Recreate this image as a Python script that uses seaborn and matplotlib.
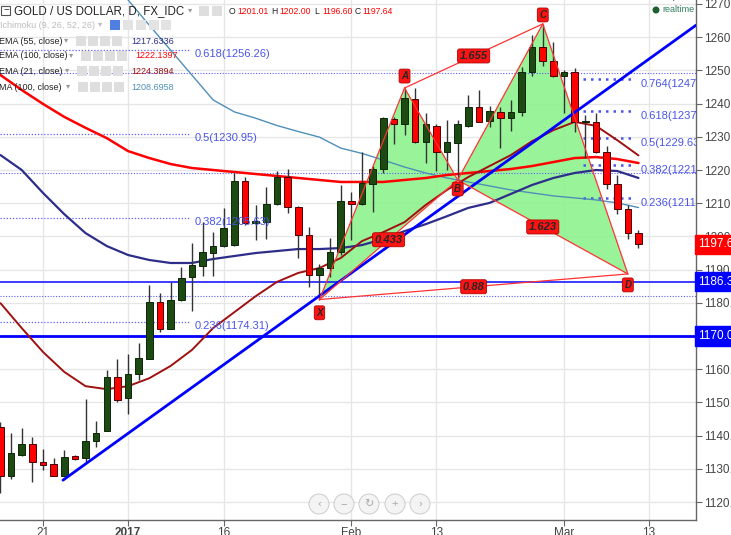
import numpy as np
import pandas as pd
import seaborn as sns
import matplotlib.pyplot as plt
from matplotlib.patches import Rectangle, Ellipse

# daily candles (index 0 = first visible bar, Dec 2016)
opens = [1142.6, 1127.8, 1134.2, 1137.5, 1132.0, 1131.4, 1127.8, 1133.9, 1133.3, 1138.4,
         1141.4, 1157.6, 1151.3, 1158.6, 1163.1, 1180.2, 1172.1, 1180.8, 1187.8, 1191.1,
         1195.0, 1197.1, 1197.5, 1216.7, 1204.0, 1204.3, 1209.8, 1217.9, 1208.9, 1200.4,
         1188.4, 1190.5, 1195.3, 1210.7, 1209.8, 1215.8, 1220.3, 1235.4, 1233.9, 1241.4,
         1228.4, 1233.3, 1225.4, 1228.1, 1233.3, 1239.0, 1234.8, 1237.5, 1235.7, 1237.5,
         1249.5, 1257.0, 1252.8, 1248.3, 1249.5, 1234.5, 1234.5, 1225.4, 1215.8, 1208.3,
         1201.01]
highs = [1144.0, 1140.8, 1142.3, 1139.6, 1136.0, 1133.3, 1135.7, 1134.2, 1151.0, 1144.4,
         1159.8, 1163.1, 1164.6, 1167.9, 1185.4, 1183.0, 1186.3, 1190.8, 1198.0, 1204.3,
         1201.3, 1208.6, 1219.1, 1218.0, 1209.5, 1214.9, 1219.7, 1220.3, 1209.2, 1202.8,
         1191.7, 1199.5, 1215.5, 1213.4, 1225.4, 1221.2, 1236.0, 1236.0, 1244.7, 1244.7,
         1237.2, 1233.9, 1235.1, 1235.1, 1242.6, 1244.1, 1239.3, 1239.0, 1241.1, 1251.0,
         1260.7, 1264.0, 1258.6, 1250.1, 1250.7, 1236.6, 1237.2, 1227.2, 1218.5, 1209.5,
         1202.00]
lows = [1122.7, 1126.9, 1133.8, 1126.0, 1129.6, 1127.8, 1127.8, 1132.7, 1132.0, 1136.6,
        1141.4, 1150.1, 1146.5, 1156.7, 1163.0, 1171.2, 1172.0, 1180.5, 1177.5, 1188.0,
        1188.0, 1196.8, 1197.0, 1203.4, 1198.9, 1199.2, 1209.5, 1207.0, 1193.5, 1184.8,
        1180.8, 1187.8, 1194.4, 1198.9, 1209.5, 1207.3, 1219.0, 1227.8, 1230.5, 1228.0,
        1222.1, 1219.7, 1220.0, 1217.0, 1233.0, 1234.5, 1233.0, 1226.6, 1231.7, 1236.3,
        1248.3, 1251.3, 1248.0, 1237.2, 1231.4, 1223.6, 1225.0, 1214.3, 1206.7, 1199.2,
        1196.60]
closes = [1127.8, 1134.8, 1137.5, 1132.0, 1131.1, 1127.8, 1133.6, 1133.0, 1138.4, 1140.8,
          1157.6, 1150.7, 1158.6, 1163.4, 1180.2, 1172.1, 1180.8, 1187.5, 1191.4, 1195.3,
          1197.1, 1202.5, 1216.7, 1204.0, 1204.6, 1209.8, 1217.9, 1208.9, 1200.4, 1188.4,
          1190.5, 1195.3, 1210.7, 1209.8, 1216.1, 1220.3, 1235.7, 1233.9, 1241.7, 1228.4,
          1233.9, 1225.4, 1228.4, 1233.9, 1239.0, 1234.5, 1237.8, 1235.7, 1237.5, 1249.5,
          1257.0, 1252.8, 1248.3, 1249.5, 1234.5, 1234.8, 1225.4, 1215.8, 1208.3, 1201.0,
          1197.64]

# moving averages, sampled every other bar
ma_idx = list(range(0, 61, 2))
ema55 = [1224.5, 1220.0, 1213.1, 1206.7, 1201.0, 1197.1, 1194.4, 1192.9, 1192.0, 1192.0,
         1193.2, 1194.1, 1195.0, 1195.6, 1196.2, 1196.2, 1196.5, 1197.4, 1199.2, 1201.6,
         1203.7, 1206.1, 1208.6, 1210.1, 1212.8, 1215.5, 1217.6, 1219.1, 1220.0, 1219.7,
         1217.6]
ema100 = [1248.6, 1244.1, 1239.9, 1236.0, 1232.7, 1229.6, 1225.7, 1223.6, 1221.8, 1220.6,
          1220.0, 1219.4, 1218.8, 1218.2, 1217.6, 1217.0, 1216.4, 1216.4, 1216.4, 1217.0,
          1217.6, 1218.5, 1219.1, 1219.7, 1220.3, 1221.2, 1222.4, 1223.6, 1223.9, 1223.3,
          1222.1]
ema21 = [1179.9, 1172.4, 1165.2, 1159.2, 1154.9, 1154.0, 1154.9, 1157.3, 1161.0, 1165.8,
         1172.4, 1177.2, 1182.0, 1186.3, 1189.0, 1190.5, 1193.5, 1198.6, 1201.3, 1204.3,
         1209.5, 1214.0, 1217.9, 1221.2, 1224.5, 1228.7, 1232.0, 1234.5, 1233.3, 1229.0,
         1224.4]
sma_idx = list(range(10, 61, 2))
sma100 = [1279.3, 1271.2, 1263.6, 1256.1, 1248.6, 1241.1, 1237.5, 1235.6, 1233.4, 1231.6,
          1229.9, 1226.6, 1225.0, 1223.0, 1220.9, 1219.1, 1217.6, 1216.4, 1215.2, 1214.0,
          1213.1, 1212.2, 1211.6, 1211.0, 1210.1, 1208.7]

# harmonic pattern X A B C D
pat_names = ['X', 'A', 'B', 'C', 'D']
pat_idx = [30, 38, 43, 51, 59]
pat_val = [1181.0, 1244.7, 1217.0, 1264.0, 1188.7]
ratio_text = ['0.433', '1.655', '1.623', '0.88']

# fibonacci levels
fib1_vals = [1256.26, 1230.95, 1205.63, 1174.31]
fib1_text = ['0.618(1256.26)', '0.5(1230.95)', '0.382(1205.63)', '0.236(1174.31)']
fib2_vals = [1247.5, 1237.7, 1229.63, 1221.5, 1211.6]
fib2_text = ['0.764(1247.', '0.618(1237.', '0.5(1229.63', '0.382(1221.', '0.236(1211.']
dotted_vals = [1249.2, 1219.1, 1182.0]
support_vals = [1186.3, 1170.0]
trend_idx = [5.88, 65.41]
trend_val = [1126.6, 1263.6]

tick_pos = [4, 12, 21, 33, 41, 53, 61]
tick_lab = ['21', '2017', '16', 'Feb', '13', 'Mar', '13']

sns.set_style("whitegrid")
plt.rcParams['font.family'] = ['Liberation Sans', 'DejaVu Sans']

W, H = 731, 535
fig = plt.figure(figsize=(W / 100, H / 100), dpi=100)
ax = fig.add_axes([0, 15 / H, 696 / W, 520 / H])
XL, XR = -0.044, 65.41
ax.set_xlim(XL, XR)
ax.set_ylim(1114.6, 1271.2)
ax.set_axisbelow(True)
ax.grid(True, color='#e6e6e6', lw=1)

# pattern fill
ax.fill(pat_idx[0:3], pat_val[0:3], color='#8ef28e', alpha=0.9, lw=0, zorder=1)
ax.fill(pat_idx[2:5], pat_val[2:5], color='#8ef28e', alpha=0.9, lw=0, zorder=1)

# horizontal levels
for v in dotted_vals:
    ax.axhline(v, color='#5c5cff', lw=0.8, ls=(0, (1, 1.5)), zorder=2)
ax.axhline(support_vals[0], color='#1a1aff', lw=1.2, zorder=2)
ax.axhline(support_vals[1], color='#0000ff', lw=2, zorder=2)
for v, t in zip(fib1_vals, fib1_text):
    ax.hlines(v, XL, 17.8, color='#5c5cff', lw=0.9, ls=(0, (1, 1.5)), zorder=2)
    ax.text(18.3, v - 1.3, t, color='#4a55e8', fontsize=8, va='center', zorder=6)
for v, t in zip(fib2_vals, fib2_text):
    ax.hlines(v, 54.8, 59.7, color='#4a55e8', lw=1.8, ls=(0, (1, 2)), zorder=2)
    ax.text(60.2, v - 1.5, t, color='#4a55e8', fontsize=8, va='center', zorder=6, clip_on=True)

# moving averages
sns.lineplot(x=sma_idx, y=sma100, ax=ax, color='#4f8fb8', lw=1, estimator=None, sort=False, zorder=3)
sns.lineplot(x=ma_idx, y=ema55, ax=ax, color='#2e2e8a', lw=1.6, estimator=None, sort=False, zorder=3)
sns.lineplot(x=ma_idx, y=ema100, ax=ax, color='#ff0000', lw=1.8, estimator=None, sort=False, zorder=3)
sns.lineplot(x=ma_idx, y=ema21, ax=ax, color='#a01010', lw=1.4, estimator=None, sort=False, zorder=3)

# candles
o, h, l, c = map(np.array, (opens, highs, lows, closes))
idx = np.arange(len(o))
up = c >= o
body = np.maximum(np.abs(c - o), 0.4)
bot = np.minimum(o, c)
ax.vlines(idx, l, h, color='#333333', lw=1, zorder=4)
ax.bar(idx[up], body[up], bottom=bot[up], width=0.62, color='#1c4a12', edgecolor='#0e2608', lw=0.7, zorder=5)
ax.bar(idx[~up], body[~up], bottom=bot[~up], width=0.62, color='#ff0000', edgecolor='#4a0000', lw=0.7, zorder=5)

# trend line
ax.plot(trend_idx, trend_val, color='#0000ff', lw=2, zorder=6)

# pattern legs
red = '#ff3333'
legs = [(0, 1), (1, 2), (0, 2), (2, 3), (3, 4), (2, 4), (1, 3), (0, 4)]
for a, b in legs:
    ax.plot([pat_idx[a], pat_idx[b]], [pat_val[a], pat_val[b]], color=red, lw=0.9, zorder=6)
for (a, b), t in zip([(0, 2), (1, 3), (2, 4), (0, 4)], ratio_text):
    mx = (pat_idx[a] + pat_idx[b]) / 2
    my = (pat_val[a] + pat_val[b]) / 2
    ax.text(mx, my, t, fontsize=8, style='italic', weight='bold', ha='center', va='center',
            bbox=dict(boxstyle='round,pad=0.18', fc='#ff1414', ec='#b00000', lw=0.6), zorder=8)
offs = [-4.0, 3.6, -2.7, 2.7, -3.3]
for n, x, v, d in zip(pat_names, pat_idx, pat_val, offs):
    ax.text(x, v + d, n, fontsize=7, style='italic', weight='bold', ha='center', va='center',
            bbox=dict(boxstyle='round,pad=0.2', fc='#ff1414', ec='#b00000', lw=0.6), zorder=8)

ax.text(61.0, 1272.4, '1.13(1272.2', color='#555555', fontsize=8, va='center', clip_on=True)

# axes styling
for s in ['left', 'top']:
    ax.spines[s].set_visible(False)
for s in ['right', 'bottom']:
    ax.spines[s].set_color('#666666')
    ax.spines[s].set_linewidth(1)
ax.yaxis.tick_right()
yt = list(range(1120, 1271, 10))
ax.set_yticks(yt)
# 1170 is covered by its own price tag
ax.set_yticklabels(['' if v == 1170 else f'{v}.0' for v in yt])
ax.set_xticks(tick_pos)
ax.set_xticklabels(tick_lab)
ax.tick_params(axis='y', colors='#666666', labelcolor='#444444', labelsize=8.5, length=4, pad=2, right=True)
ax.tick_params(axis='x', colors='#666666', labelcolor='#444444', labelsize=8.5, length=4, pad=1, bottom=True)
ax.get_xticklabels()[1].set_weight('bold')
ax.set_xlabel('')
ax.set_ylabel('')

# price tags
tags = [(closes[-1], '1197.64', '#ff0000'), (support_vals[0], '1186.30', '#0000ff'),
        (support_vals[1], '1170.00', '#0000ff')]
for v, t, col in tags:
    ax.text(1.003, v, t, transform=ax.get_yaxis_transform(), color='white', fontsize=8.5,
            va='center', ha='left', clip_on=False, zorder=10,
            bbox=dict(boxstyle='square,pad=0.3', fc=col, ec=col))


def fx(px):
    return px / W


def fy(py):
    return 1 - py / H


def icon(x, y, fc='#dedede'):
    fig.patches.append(Rectangle((fx(x), fy(y + 5)), 10 / W, 10 / H, transform=fig.transFigure,
                                 fc=fc, ec='none'))


# header / legend
fs = 6.5
fig.patches.append(Rectangle((fx(1), fy(15)), 9 / W, 9 / H, transform=fig.transFigure,
                             fc='white', ec='#555555', lw=0.8))
fig.text(fx(3), fy(10.5), '−', fontsize=7, color='#333333', va='center')
fig.text(fx(14), fy(11), 'GOLD / US DOLLAR, D, FX_IDC', fontsize=8.3, color='#222222', va='center')
fig.text(fx(188), fy(11), '▾', fontsize=6, color='#999999', va='center')
icon(199, 11)
icon(212, 11)
ohlc = [('O', 229, '#222222'), ('1201.01', 237, '#ff0000'), ('H', 271, '#222222'),
        ('1202.00', 279, '#ff0000'), ('L', 314, '#222222'), ('1196.60', 322, '#ff0000'),
        ('C', 355, '#222222'), ('1197.64', 362, '#ff0000')]
for t, x, col in ohlc:
    fig.text(fx(x), fy(11), t, fontsize=6.2, color=col, va='center')

fig.text(fx(0), fy(25), 'Ichimoku (9, 26, 52, 26)', fontsize=fs, color='#bbbbbb', va='center')
fig.text(fx(98), fy(25), '▾', fontsize=6, color='#bbbbbb', va='center')
icon(110, 25, '#4f7fe0')
for x in [123, 136, 149, 161]:
    icon(x, 25, '#e3e3e3')

rows = [('EMA (55, close)', 41, 76, '1217.6336', '#2e2e8a', 131),
        ('EMA (100, close)', 56, 81, '1222.1397', '#ff0000', 135),
        ('EMA (21, close)', 71, 77, '1224.3894', '#a01010', 131),
        ('MA (100, close)', 87, 78, '1208.6958', '#4f8fb8', 131)]
for name, y, ix, val, col, vx in rows:
    fig.text(fx(-1), fy(y), name, fontsize=fs, color='#222222', va='center')
    fig.text(fx(ix - 12), fy(y), '▾', fontsize=6, color='#999999', va='center')
    for k in range(4):
        icon(ix + 12 * k, y)
    fig.text(fx(vx), fy(y), val, fontsize=fs, color=col, va='center')

# realtime marker
fig.patches.append(Ellipse((fx(656), fy(10)), 7 / W, 7 / H, transform=fig.transFigure,
                           fc='#1f5f2f', ec='none'))
fig.text(fx(662), fy(10), 'realtime', fontsize=fs, color='#2f7f5f', va='center')

# navigation buttons
for x, s in zip([319, 344, 369, 395, 420], ['‹', '−', '↻', '+', '›']):
    fig.patches.append(Ellipse((fx(x), fy(504)), 20 / W, 20 / H, transform=fig.transFigure,
                               fc='#f3f3f3', ec='#cccccc', lw=0.8, alpha=0.9))
    fig.text(fx(x), fy(504), s, fontsize=8, color='#aaaaaa', ha='center', va='center')

fig.savefig('out.png', dpi=100)
